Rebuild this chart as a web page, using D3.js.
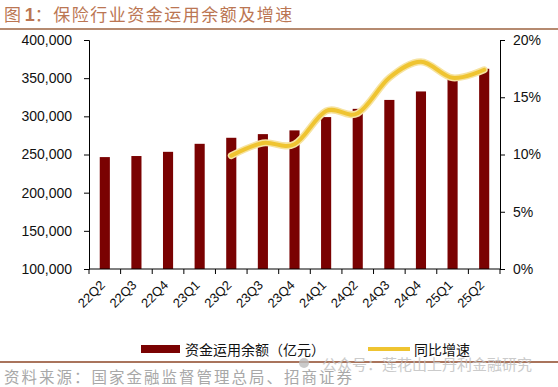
<html>
<head>
<meta charset="utf-8">
<title>保险行业资金运用余额及增速</title>
<script src="https://cdn.jsdelivr.net/npm/d3@7"></script>
<style>
  body { margin: 0; background: #fff; }
  svg text { font-family: "Liberation Sans", Arial, sans-serif; }
  .cn { font-family: "Noto Sans CJK SC", sans-serif; }
</style>
</head>
<body>
<svg id="chart" width="558" height="387"></svg>
<script>
// data
var quarters = ["22Q2","22Q3","22Q4","23Q1","23Q2","23Q3","23Q4","24Q1","24Q2","24Q3","24Q4","25Q1","25Q2"]
var balance = [246600, 248000, 253500, 264000, 271900, 276700, 281600, 299000, 309800, 321500, 332600, 349300, 362300]
var growth = [null, null, null, null, 9.9, 11.0, 10.9, 13.8, 13.6, 16.7, 18.1, 16.7, 17.4]
var leftTicks = [100000, 150000, 200000, 250000, 300000, 350000, 400000]
var rightTicks = [0, 5, 10, 15, 20]

var svg = d3.select("#chart")
// plot edges (note: "top" is reserved on window, so use other names)
var pLeft = 89, pRight = 500, pTop = 40, pBottom = 269

// title + rules
var title = svg.append("text").attr("class", "cn")
  .attr("x", 4).attr("y", 21)
  .attr("fill", "#bb7653").attr("font-size", 17)
title.append("tspan").text("图 ")
title.append("tspan").attr("font-family", "Liberation Sans, Arial").attr("font-weight", "bold").attr("font-size", 18).text("1")
title.append("tspan").attr("letter-spacing", 1.5).text("：保险行业资金运用余额及增速")
svg.append("line").attr("x1", 0).attr("x2", 558).attr("y1", 29).attr("y2", 29)
  .attr("stroke", "#b58a70").attr("stroke-width", 2)
svg.append("line").attr("x1", 0).attr("x2", 558).attr("y1", 362).attr("y2", 362)
  .attr("stroke", "#a9745c").attr("stroke-width", 2)

// scales
var x = d3.scaleBand().domain(quarters).range([pLeft, pRight]).paddingInner(0.68).paddingOuter(0.34)
var yL = d3.scaleLinear().domain([100000, 400000]).range([pBottom, pTop])
var yR = d3.scaleLinear().domain([0, 20]).range([pBottom, pTop])

// bars
svg.append("g").selectAll("rect")
  .data(balance)
  .enter()
  .append("rect")
    .attr("x", (d, i) => x(quarters[i]))
    .attr("width", x.bandwidth())
    .attr("y", d => yL(d))
    .attr("height", d => pBottom - yL(d))
    .attr("fill", "#7a0202")

// axes
svg.append("g").attr("transform", "translate(" + pLeft + ",0)")
  .call(d3.axisLeft(yL).tickValues(leftTicks).tickSize(5).tickPadding(12).tickFormat(d3.format(",")))
svg.append("g").attr("transform", "translate(" + pRight + ",0)")
  .call(d3.axisRight(yR).tickValues(rightTicks).tickSize(5).tickPadding(8).tickFormat(d => d + "%"))

// bottom axis: ticks between categories
var step = x.step()
var gb = svg.append("g")
gb.append("line").attr("x1", pLeft).attr("x2", pRight).attr("y1", pBottom).attr("y2", pBottom).attr("stroke", "#000")
gb.selectAll("line.t")
  .data(d3.range(quarters.length + 1))
  .enter()
  .append("line").attr("class", "t")
    .attr("x1", i => pLeft + i * step).attr("x2", i => pLeft + i * step)
    .attr("y1", pBottom).attr("y2", pBottom + 5)
    .attr("stroke", "#000")
gb.selectAll("text")
  .data(quarters)
  .enter()
  .append("text")
    .attr("transform", d => "translate(" + (x(d) + x.bandwidth() / 2 + 1) + "," + (pBottom + 17) + ") rotate(-45)")
    .attr("text-anchor", "end")
    .attr("font-size", 13)
    .attr("fill", "#111")
    .text(d => d)

svg.selectAll(".domain").attr("stroke", "#000")
svg.selectAll(".tick line").attr("stroke", "#000")
svg.selectAll(".tick text").attr("font-size", 14).attr("fill", "#111")
  .attr("font-family", "Liberation Sans, Arial, sans-serif")

// growth line
var line = d3.line()
  .defined(d => d != null)
  .x((d, i) => x(quarters[i]) + x.bandwidth() / 2)
  .y(d => yR(d))
  .curve(d3.curveCardinal.tension(0))
svg.append("path").datum(growth).attr("d", line)
  .attr("fill", "none").attr("stroke", "#f6e3a0").attr("stroke-width", 7).attr("stroke-linecap", "round")
svg.append("path").datum(growth).attr("d", line)
  .attr("fill", "none").attr("stroke", "#efc431").attr("stroke-width", 4).attr("stroke-linecap", "round")

// legend
svg.append("rect").attr("x", 141).attr("y", 345).attr("width", 39).attr("height", 8).attr("fill", "#7a0202")
svg.append("text").attr("class", "cn").attr("x", 185).attr("y", 355).attr("font-size", 14).attr("fill", "#111")
  .text("资金运用余额（亿元）")
svg.append("line").attr("x1", 368).attr("x2", 410).attr("y1", 349).attr("y2", 349)
  .attr("stroke", "#efc431").attr("stroke-width", 4)
svg.append("text").attr("class", "cn").attr("x", 414).attr("y", 355).attr("font-size", 14).attr("fill", "#111")
  .text("同比增速")

// source + watermark
svg.append("text").attr("class", "cn").attr("x", 4).attr("y", 383)
  .attr("font-size", 15.5).attr("fill", "#a8a8a8").attr("letter-spacing", 2)
  .text("资料来源：国家金融监督管理总局、招商证券")
svg.append("circle").attr("cx", 304).attr("cy", 363).attr("r", 5).attr("fill", "#bdbdbd").attr("opacity", 0.8)
svg.append("text").attr("class", "cn").attr("x", 322).attr("y", 370)
  .attr("font-size", 15).attr("fill", "#c2c2c2").attr("opacity", 0.85)
  .text("公众号：莲花山上丹利金融研究")
</script>
</body>
</html>
